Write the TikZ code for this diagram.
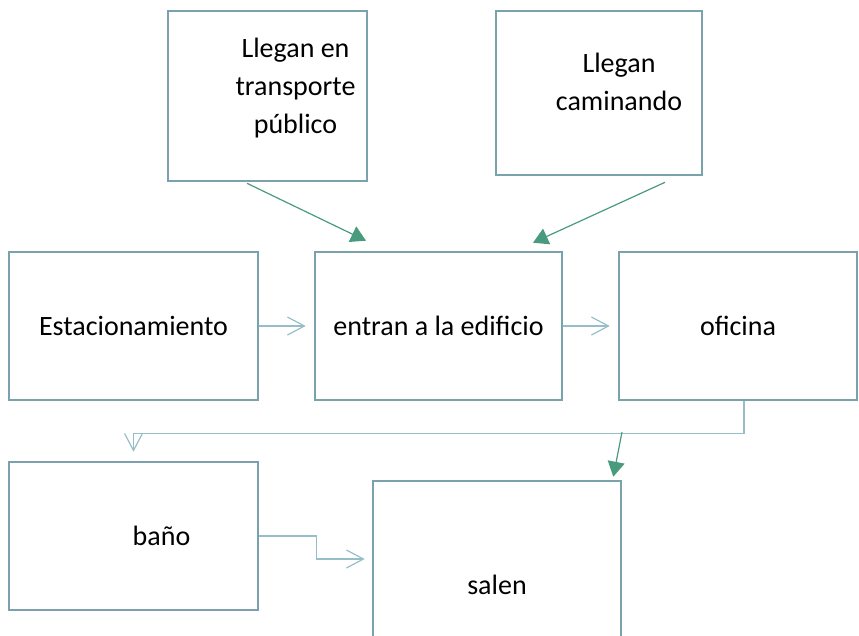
\documentclass[tikz,border=0pt]{standalone}
\usepackage{fontspec}
\setmainfont{Carlito}
\usetikzlibrary{arrows.meta}
\definecolor{frame}{RGB}{122,162,173}
\definecolor{wire}{RGB}{150,190,200}
\definecolor{sage}{RGB}{72,155,125}
\tikzset{
  box/.style={draw=frame,line width=2.6pt,align=center,inner sep=0pt,
    font=\fontsize{28}{38}\selectfont},
  flow/.style={draw=wire,line width=1.2pt,
    -{Straight Barb[length=17pt,width=18pt,line width=1.2pt]}},
  feed/.style={draw=sage,line width=1.2pt,-{Triangle[length=15pt,width=17pt]}},
}
\begin{document}
\begin{tikzpicture}[x=1pt,y=-1pt]
    \useasboundingbox (0,0) rectangle (859,635);
    \clip (0,0) rectangle (859,635);
    % top row
    \node[box,minimum width=199pt,minimum height=170pt] (bus) at (267.5,96)
      {\hspace*{56pt}\begin{tabular}{@{}c@{}}Llegan en\\transporte\\público\\[16pt]\end{tabular}};
    \node[box,minimum width=206pt,minimum height=164pt] (walk) at (599,93)
      {\hspace*{40pt}\begin{tabular}{@{}c@{}}Llegan\\caminando\\[18pt]\end{tabular}};
    % middle row
    \node[box,minimum width=249pt,minimum height=148pt] (park) at (133.5,326) {Estacionamiento};
    \node[box,minimum width=247pt,minimum height=148pt] (enter) at (438.5,326) {entran a la edificio};
    \node[box,minimum width=238pt,minimum height=148pt] (office) at (738,326) {oficina};
    % bottom row
    \node[box,minimum width=249pt,minimum height=148pt] (bath) at (133.5,536) {\hspace*{56pt}baño};
    \node[box,minimum width=248pt,minimum height=208pt] (leave) at (497,585) {salen};
    % connectors
    \draw[feed] ([xshift=-20.5pt,yshift=-1pt]bus.south) -- ([xshift=-72.5pt,yshift=10pt]enter.north);
    \draw[feed] ([xshift=66pt,yshift=-6pt]walk.south) -- ([xshift=94.5pt,yshift=8pt]enter.north);
    \draw[flow,shorten >=8pt] (park) -- (enter);
    \draw[flow,shorten >=8pt] (enter) -- (office);
    \draw[flow,shorten >=9pt] ([xshift=6pt]office.south) -- ++(0,32) coordinate (turn) -| (bath.north);
    \coordinate (split) at (622,432);
    \draw[feed] (split) -- ([xshift=-9pt,yshift=3pt]leave.north east);
    \draw[flow,shorten >=7pt] (bath.east) -- ++(57,0) |- ([yshift=26pt]leave.west);
\end{tikzpicture}
\end{document}
